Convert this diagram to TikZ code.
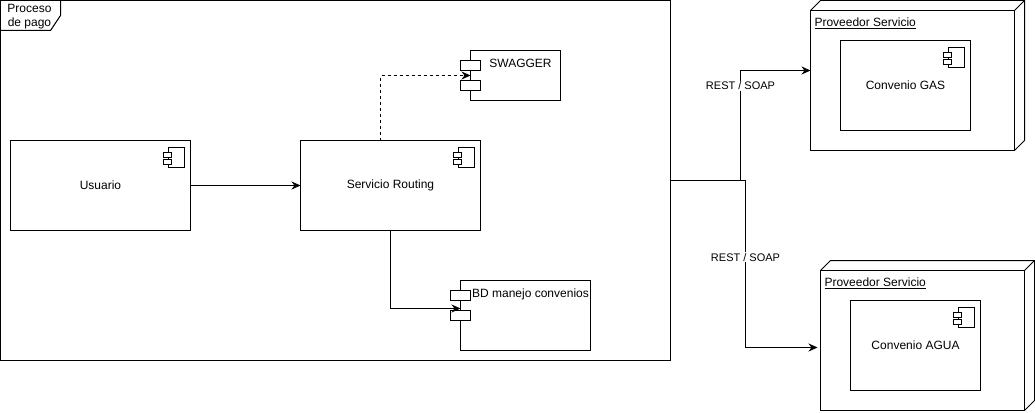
\documentclass[tikz,border=0pt]{standalone}
\usepackage{fontspec}
\setmainfont{Liberation Sans}
\usetikzlibrary{positioning,arrows.meta}

\tikzset{
    box/.style={draw, rectangle, inner sep=0pt, outer sep=0pt, anchor=north west, font=\fontsize{12}{14}\selectfont},
    link/.style={-{Stealth[length=9pt,width=8pt]}},
    tag/.style={inner sep=1pt, font=\fontsize{12}{14}\selectfont},
    resttag/.style={inner sep=1pt, fill=white, font=\fontsize{11}{13}\selectfont},
}

% corner icon of a component
\newcommand{\compicon}[1]{
    \draw ([xshift=-22pt,yshift=-7pt]#1.north east) rectangle ++(16,20);
    \draw[fill=white] ([xshift=-27pt,yshift=-12pt]#1.north east) rectangle ++(8,5);
    \draw[fill=white] ([xshift=-27pt,yshift=-19pt]#1.north east) rectangle ++(8,5);
}
% two ports on the left side of a component
\newcommand{\compports}[1]{
    \draw[fill=white] ([xshift=-10pt,yshift=-10pt]#1.north west) rectangle ++(20,10);
    \draw[fill=white] ([xshift=-10pt,yshift=-30pt]#1.north west) rectangle ++(20,10);
}
% depth faces of a provider
\newcommand{\provfaces}[1]{
    \draw (#1.north west) -- ++(10,-10) -- ++(204,0) -- ++(0,140) -- (#1.south east);
    \draw (#1.north east) -- ++(10,-10);
}

\begin{document}
\begin{tikzpicture}[x=1pt, y=-1pt, line width=1pt, node distance=110pt]
    \useasboundingbox (-0.5,-0.5) rectangle (1034.5,411.5);

    % Frame
    \node[box, minimum width=670pt, minimum height=360pt] (proceso) at (0,0) {};
    \draw ([yshift=-30pt]proceso.north west) -- ++(50,0) -- ++(10,-15) -- ++(0,-15);
    \node[tag, align=center] (procesotxt) at (29,16.5) {Proceso\\de pago};

    % Components
    \node[box, minimum width=180pt, minimum height=90pt] (usuario) at (10,140) {Usuario};
    \node[box, minimum width=180pt, minimum height=90pt, right=of usuario] (routing) {Servicio Routing};
    \node[box, minimum width=90pt, minimum height=50pt] (swagger) at (470,50) {};
    \node[box, minimum width=130pt, minimum height=70pt] (bd) at (460,280) {};
    \compports{swagger}
    \compports{bd}
    \node[tag] (swaggertxt) at (520,63) {SWAGGER};
    \node[tag] (bdtxt) at (530,294) {BD manejo convenios};

    % Providers
    \node[box, minimum width=204pt, minimum height=140pt] (provgas) at (810,10) {};
    \node[box, minimum width=204pt, minimum height=140pt] (provagua) at (820,270) {};
    \provfaces{provgas}
    \provfaces{provagua}
    \node[tag, anchor=west] (provgastxt) at (812.5,22.5) {\underline{Proveedor Servicio}};
    \node[tag, anchor=west] (provaguatxt) at (822.5,282.5) {\underline{Proveedor Servicio}};
    \node[box, minimum width=130pt, minimum height=90pt] (convgas) at (840,40) {Convenio GAS};
    \node[box, minimum width=130pt, minimum height=90pt] (convagua) at (850,300) {Convenio AGUA};

    \foreach \n in {usuario,routing,convgas,convagua}
        \compicon{\n};

    % Arrows
    \draw[link] (usuario) -- (routing);
    \draw[link, dash pattern=on 3pt off 3pt] ([xshift=-10pt]routing.north) |- (swagger.west);
    \draw[link] (routing.south) |- ([yshift=7pt]bd.west);
    \draw[link] (proceso.east) -- ++(70,0) |- node[resttag, pos=0.43] (restgas) {REST / SOAP} ([yshift=10pt]provgas.west);
    \draw[link] (proceso.east) -- ++(75,0) |- node[resttag, pos=0.23] (restagua) {REST / SOAP} ([xshift=-3pt,yshift=-7pt]provagua.west);
\end{tikzpicture}
\end{document}
